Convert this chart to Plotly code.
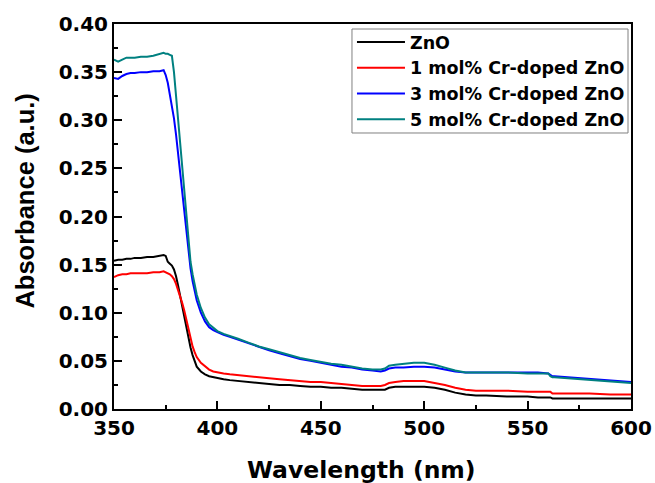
import plotly.graph_objects as go

wavelength = [350, 352, 354, 356, 358, 360, 363, 366, 369, 372, 374, 375, 376, 377, 378, 379,
              380, 381, 382, 383, 384, 385, 386, 387, 388, 389, 390, 392, 394, 396, 398, 400,
              403, 406, 410, 415, 420, 425, 430, 435, 440, 445, 450, 455, 460, 465, 470, 475,
              479, 481, 483, 486, 490, 495, 500, 505, 510, 515, 520, 525, 530, 540, 550, 555,
              560, 561, 562, 563, 570, 580, 590, 600]

zno = [0.154, 0.155, 0.155, 0.156, 0.156, 0.157, 0.157, 0.158, 0.158, 0.159, 0.160, 0.159, 0.153, 0.151, 0.149, 0.145,
       0.138, 0.128, 0.117, 0.107, 0.096, 0.085, 0.074, 0.064, 0.056, 0.049, 0.044, 0.039, 0.036, 0.034, 0.033, 0.032,
       0.031, 0.030, 0.029, 0.028, 0.027, 0.026, 0.025, 0.025, 0.024, 0.023, 0.023, 0.022, 0.022, 0.021, 0.020, 0.020,
       0.020, 0.020, 0.022, 0.023, 0.023, 0.023, 0.023, 0.022, 0.020, 0.017, 0.015, 0.014, 0.014, 0.013, 0.013, 0.012,
       0.012, 0.012, 0.011, 0.011, 0.011, 0.011, 0.011, 0.011]

cr1 = [0.137, 0.139, 0.140, 0.140, 0.141, 0.141, 0.141, 0.141, 0.142, 0.142, 0.143, 0.142, 0.141, 0.140, 0.138, 0.135,
       0.130, 0.124, 0.118, 0.110, 0.102, 0.092, 0.083, 0.073, 0.065, 0.059, 0.054, 0.048, 0.044, 0.041, 0.039, 0.038,
       0.037, 0.036, 0.035, 0.034, 0.033, 0.032, 0.031, 0.030, 0.029, 0.028, 0.028, 0.027, 0.026, 0.025, 0.024, 0.024,
       0.024, 0.025, 0.027, 0.028, 0.029, 0.029, 0.029, 0.027, 0.025, 0.022, 0.020, 0.019, 0.019, 0.019, 0.018, 0.018,
       0.018, 0.018, 0.016, 0.016, 0.016, 0.016, 0.015, 0.015]

cr3 = [0.344, 0.343, 0.346, 0.348, 0.349, 0.349, 0.350, 0.350, 0.351, 0.351, 0.352, 0.347, 0.339, 0.328, 0.317, 0.302,
       0.285, 0.265, 0.245, 0.225, 0.203, 0.182, 0.163, 0.146, 0.133, 0.122, 0.113, 0.100, 0.091, 0.085, 0.082, 0.080,
       0.077, 0.075, 0.072, 0.069, 0.065, 0.061, 0.058, 0.055, 0.052, 0.050, 0.048, 0.046, 0.044, 0.043, 0.041, 0.040,
       0.039, 0.040, 0.042, 0.043, 0.043, 0.044, 0.044, 0.043, 0.041, 0.039, 0.038, 0.038, 0.038, 0.038, 0.038, 0.038,
       0.037, 0.035, 0.034, 0.034, 0.033, 0.031, 0.030, 0.028]

cr5 = [0.363, 0.361, 0.363, 0.365, 0.365, 0.365, 0.366, 0.366, 0.367, 0.369, 0.370, 0.369, 0.369, 0.368, 0.367, 0.350,
       0.325, 0.300, 0.275, 0.250, 0.225, 0.197, 0.172, 0.153, 0.140, 0.129, 0.119, 0.105, 0.095, 0.088, 0.084, 0.081,
       0.078, 0.076, 0.073, 0.069, 0.065, 0.062, 0.059, 0.056, 0.053, 0.051, 0.049, 0.047, 0.046, 0.044, 0.042, 0.041,
       0.041, 0.042, 0.045, 0.046, 0.047, 0.048, 0.048, 0.046, 0.043, 0.040, 0.038, 0.038, 0.038, 0.038, 0.037, 0.037,
       0.037, 0.034, 0.033, 0.033, 0.032, 0.030, 0.029, 0.027]

series_names = ["ZnO", "1 mol% Cr-doped ZnO", "3 mol% Cr-doped ZnO", "5 mol% Cr-doped ZnO"]
series_values = [zno, cr1, cr3, cr5]
series_colors = ["#000000", "#FF0000", "#0000FF", "#008080"]

x_ticks = [350, 400, 450, 500, 550, 600]
y_ticks = [0.00, 0.05, 0.10, 0.15, 0.20, 0.25, 0.30, 0.35, 0.40]

fig = go.Figure()
for name, vals, col in zip(series_names, series_values, series_colors):
    fig.add_trace(go.Scatter(x=wavelength, y=vals, mode="lines", name=name,
                             line=dict(color=col, width=2)))

tickfont = dict(family="DejaVu Sans", size=20, color="black", weight="bold")
axis_common = dict(showline=True, linecolor="black", linewidth=2, mirror=True,
                   ticks="inside", ticklen=8, tickwidth=1.5, tickcolor="black",
                   showgrid=False, zeroline=False, tickfont=tickfont, automargin=False)

fig.update_xaxes(range=[350, 600], tickvals=x_ticks, ticktext=[str(v) for v in x_ticks],
                 minor=dict(dtick=25, tick0=350, ticks="inside", ticklen=4, tickwidth=1.5, tickcolor="black"),
                 **axis_common)
fig.update_yaxes(range=[0, 0.40], tickvals=y_ticks, ticktext=[f"{v:.2f}" for v in y_ticks],
                 minor=dict(dtick=0.025, tick0=0, ticks="inside", ticklen=4, tickwidth=1.5, tickcolor="black"),
                 **axis_common)

fig.add_annotation(text="Wavelength (nm)", xref="paper", yref="paper", x=0.4778, y=-0.158,
                   xanchor="center", yanchor="middle", showarrow=False,
                   font=dict(family="DejaVu Sans", size=23.5, color="black", weight="bold"))
fig.add_annotation(text="Absorbance (a.u.)", xref="paper", yref="paper", x=-0.172, y=0.539,
                   xanchor="center", yanchor="middle", showarrow=False, textangle=-90,
                   font=dict(family="Liberation Sans", size=25.5, color="black", weight="bold"))

# legend frame
fig.add_shape(type="rect", xref="paper", yref="paper", x0=0.4603, x1=0.9942, y0=0.7169, y1=0.987,
              line=dict(color="#808080", width=1), fillcolor="white", layer="above")

fig.update_layout(
    width=655, height=483,
    margin=dict(l=114, r=24, t=24, b=74, autoexpand=False),
    plot_bgcolor="white", paper_bgcolor="white",
    showlegend=True,
    legend=dict(x=0.4603, y=1.0, xanchor="left", yanchor="top",
                bgcolor="rgba(0,0,0,0)", borderwidth=0,
                font=dict(family="DejaVu Sans", size=17.5, color="black", weight="bold"),
                itemwidth=48, traceorder="normal"),
)

fig.write_html("out.html")
